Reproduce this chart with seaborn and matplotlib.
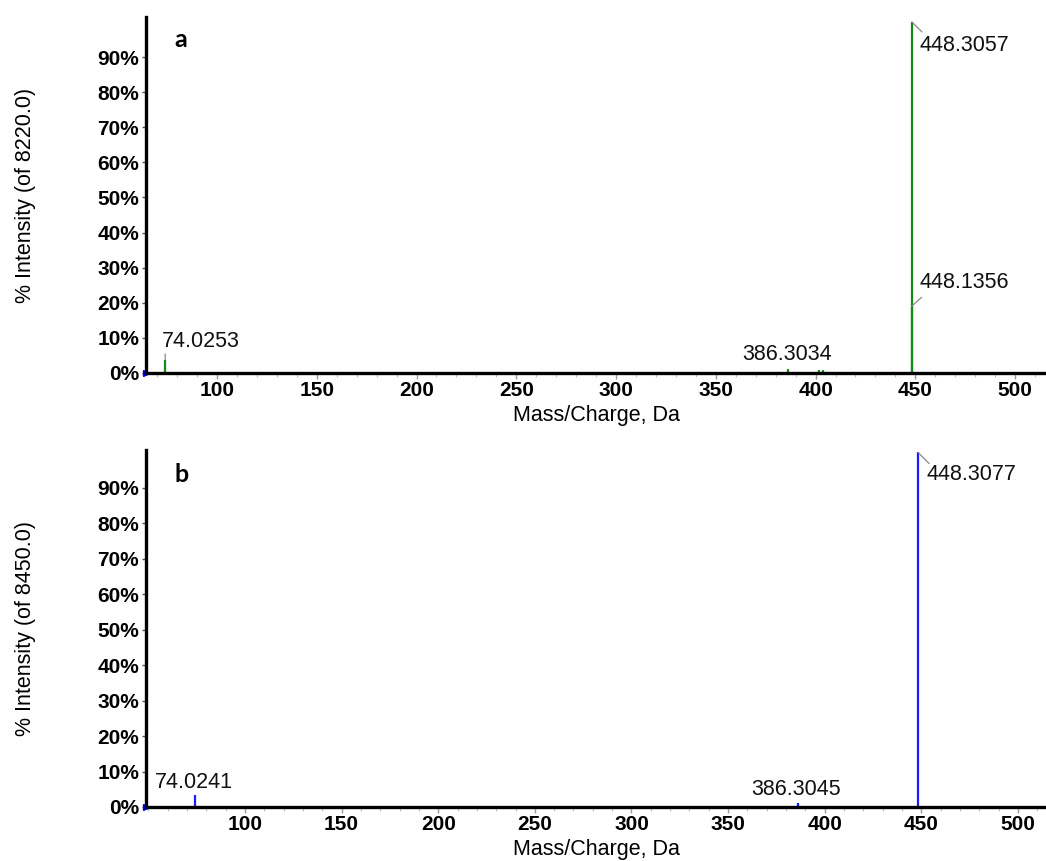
import numpy as np
import pandas as pd
import matplotlib
matplotlib.use("Agg")
import matplotlib.pyplot as plt
import seaborn as sns
from matplotlib.ticker import MultipleLocator, FuncFormatter

# =========================
# DATOS (leídos del espectro)
# =========================
mz_a = [74.0253, 386.3034, 401.6, 403.9, 448.1356, 448.3057]
int_a = [3.7, 1.0, 0.8, 0.8, 19.0, 100.0]
etiquetas_a = [74.0253, 386.3034, 448.1356, 448.3057]

mz_b = [74.0241, 386.3045, 405.0, 448.3077]
int_b = [3.3, 1.1, 0.3, 100.0]
etiquetas_b = [74.0241, 386.3045, 448.3077]

total_a = "8220.0"
total_b = "8450.0"

df_a = pd.DataFrame({"mz": mz_a, "intensidad": int_a})
df_b = pd.DataFrame({"mz": mz_b, "intensidad": int_b})

# =========================
# ESTILO
# =========================
sns.set_style("ticks")
plt.rcParams["font.family"] = ["Liberation Sans", "DejaVu Sans"]
plt.rcParams["text.color"] = "black"
plt.rcParams["axes.labelcolor"] = "black"

fig = plt.figure(figsize=(10.46, 8.61), dpi=100)
W, H = 1046, 861
ax_a = fig.add_axes([146 / W, 1 - 373 / H, 900 / W, (373 - 17) / H])
ax_b = fig.add_axes([146 / W, 1 - 807 / H, 900 / W, (807 - 450) / H])

# offsets (px) de las etiquetas: (dx, dy, ha, conector)
pos_a = {
    74.0253: (-3, 13, "left", (0, 6)),
    386.3034: (-1, 9, "center", None),
    448.1356: (8, 18.5, "left", (10, 9)),
    448.3057: (8, -29, "left", (10, -10)),
}
pos_b = {
    74.0241: (-1, 7.5, "center", None),
    386.3045: (-2, 8.5, "center", None),
    448.3077: (8, -28, "left", (11, -11)),
}


def dibujar(ax, df, etiquetas, pos, color, xlim, ylim, total, letra, letra_y):
    ax.vlines(df["mz"], 0, df["intensidad"], color=color, lw=1.6)
    ax.set_xlim(*xlim)
    ax.set_ylim(*ylim)

    for m in etiquetas:
        h = df.loc[df["mz"] == m, "intensidad"].values[0]
        dx, dy, ha, con = pos[m]
        if con is not None:
            ax.annotate("", xy=(m, h), xytext=con, textcoords="offset pixels",
                        arrowprops=dict(arrowstyle="-", color="#8a8a8a", lw=0.9,
                                        shrinkA=0, shrinkB=0))
        ax.annotate(f"{m:.4f}", xy=(m, h), xytext=(dx, dy),
                    textcoords="offset pixels", ha=ha, va="baseline",
                    fontsize=15.5, color="#111111")

    # ejes
    sns.despine(ax=ax)
    for s in ["left", "bottom"]:
        ax.spines[s].set_linewidth(2.4)
        ax.spines[s].set_color("black")

    ax.set_xticks(np.arange(100, 501, 50))
    ax.xaxis.set_minor_locator(MultipleLocator(10))
    ax.set_yticks(np.arange(0, 100, 10))
    ax.yaxis.set_major_formatter(FuncFormatter(lambda v, p: f"{int(round(v))}%"))

    ax.tick_params(axis="x", which="major", length=4, width=1, color="#9a9a9a",
                   pad=2, labelsize=15, labelcolor="black")
    ax.tick_params(axis="x", which="minor", length=3, width=0.8, color="#c0c0c0")
    ax.tick_params(axis="y", which="major", length=3, width=1, color="#555555",
                   pad=2, labelsize=15, labelcolor="black")
    for t in ax.get_xticklabels() + ax.get_yticklabels():
        t.set_fontweight("bold")

    ax.plot([xlim[0]], [0], marker=">", color="blue", ms=4, clip_on=False)

    ax.set_xlabel("Mass/Charge, Da", fontsize=15.5, labelpad=3)
    ax.set_ylabel(f"% Intensity (of {total})", fontsize=15.5)
    ax.yaxis.set_label_coords(-0.122, 0.5)

    ax.text(0.039, letra_y, letra, transform=ax.transAxes, ha="center",
            va="center", fontsize=18, fontweight="bold", family=["Lato", "DejaVu Sans"])


dibujar(ax_a, df_a, etiquetas_a, pos_a, "#138a13", (64.4, 515.5), (0, 101.4),
        total_a, "a", 0.938)
dibujar(ax_b, df_b, etiquetas_b, pos_b, "#1a1aff", (48.8, 514.5), (0, 100.7),
        total_b, "b", 0.930)

fig.savefig("out.png", dpi=100)
